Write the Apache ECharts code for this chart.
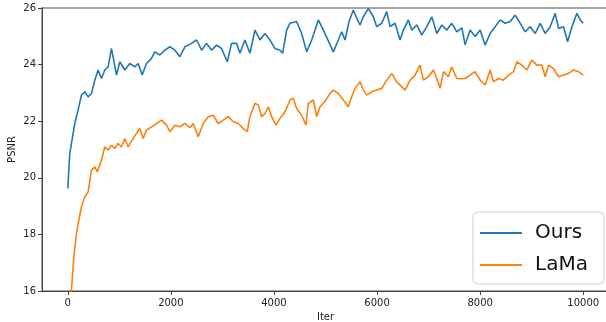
<!DOCTYPE html>
<html>
<head>
<meta charset="utf-8">
<script src="https://cdn.jsdelivr.net/npm/echarts@6/dist/echarts.min.js"></script>
<style>html,body{margin:0;padding:0;background:#fff;}#c{width:606px;height:322px;}</style>
</head>
<body>
<div id="c"></div>
<script>
const xTicks = [0, 2000, 4000, 6000, 8000, 10000];
const seriesNames = ['Ours', 'LaMa'];

const oursIter = [0,39,71,136,200,265,330,395,460,524,589,654,718,783,848,945,1010,1107,1204,1301,1366,1443,1527,1625,1689,1786,1883,1981,2078,2175,2272,2400,2499,2596,2693,2790,2887,2984,3094,3178,3275,3340,3437,3534,3631,3728,3825,3922,4019,4117,4168,4246,4311,4440,4537,4635,4732,4861,4958,5055,5152,5249,5314,5379,5456,5540,5606,5670,5734,5831,5928,5994,6091,6188,6252,6350,6447,6511,6608,6673,6770,6868,6965,7062,7159,7256,7353,7450,7547,7645,7709,7806,7903,8000,8097,8194,8291,8388,8485,8583,8680,8777,8874,8971,9068,9165,9262,9359,9456,9521,9618,9696,9780,9877,9942,10000];
const oursPsnr = [19.62,20.86,21.21,21.92,22.39,22.92,23.04,22.86,22.98,23.45,23.81,23.51,23.81,23.92,24.57,23.63,24.10,23.81,24.04,23.92,24.04,23.63,24.04,24.22,24.45,24.34,24.51,24.63,24.51,24.28,24.63,24.75,24.87,24.51,24.75,24.51,24.69,24.57,24.10,24.75,24.75,24.40,24.87,24.40,25.22,24.87,25.10,24.87,24.57,24.51,24.40,25.22,25.46,25.52,25.10,24.45,24.87,25.58,25.22,24.84,24.45,24.87,25.16,24.87,25.52,25.93,25.64,25.40,25.69,25.99,25.69,25.34,25.46,25.87,25.34,25.46,24.87,25.22,25.58,25.22,25.40,25.04,25.34,25.69,25.10,25.40,25.22,25.46,25.16,25.30,24.70,25.22,24.99,25.22,24.69,25.10,25.34,25.58,25.46,25.52,25.75,25.46,25.16,25.34,25.10,25.46,25.10,25.34,25.81,25.28,25.34,24.81,25.34,25.81,25.58,25.46];

const lamaIter = [0,71,123,168,214,265,330,395,460,524,576,654,718,783,848,913,977,1042,1107,1171,1249,1333,1398,1462,1527,1625,1722,1819,1916,1981,2078,2175,2272,2369,2434,2531,2628,2725,2822,2919,3016,3113,3210,3307,3404,3482,3534,3631,3696,3761,3825,3890,3955,4039,4117,4214,4311,4375,4440,4537,4621,4666,4764,4829,4893,4990,5087,5152,5249,5346,5443,5508,5573,5670,5734,5800,5897,5994,6091,6188,6285,6382,6479,6544,6641,6738,6835,6899,6996,7094,7191,7223,7288,7385,7450,7547,7630,7709,7806,7903,8000,8097,8194,8258,8355,8452,8550,8647,8712,8809,8906,9003,9100,9198,9262,9327,9424,9521,9618,9715,9812,9909,10000];
const lamaPsnr = [15.30,16.02,17.32,18.03,18.50,18.97,19.33,19.50,20.27,20.39,20.21,20.62,21.09,20.98,21.15,21.04,21.21,21.09,21.39,21.09,21.33,21.57,21.74,21.39,21.68,21.80,21.92,22.04,21.86,21.63,21.86,21.80,21.92,21.77,21.92,21.45,21.92,22.16,22.21,21.92,22.04,22.16,21.98,21.92,21.74,21.63,22.16,22.63,22.57,22.16,22.27,22.51,22.16,21.86,22.10,22.33,22.75,22.81,22.45,22.21,21.86,22.63,22.75,22.16,22.51,22.70,22.98,23.10,22.98,22.75,22.51,22.86,23.16,23.39,23.10,22.92,23.04,23.10,23.16,23.45,23.69,23.39,23.22,23.10,23.45,23.63,23.98,23.45,23.57,23.81,23.34,23.16,23.75,23.57,23.92,23.51,23.50,23.51,23.63,23.75,23.45,23.28,23.81,23.39,23.51,23.45,23.63,23.75,24.10,23.98,23.81,24.16,23.98,23.98,23.57,23.98,23.86,23.57,23.63,23.69,23.81,23.75,23.63];

function pairs(xs, ys) { return xs.map((x, i) => [x, ys[i]]); }

const chart = echarts.init(document.getElementById('c'), null, {renderer: 'canvas'});
const FONT = 'DejaVu Sans';
chart.setOption({
  animation: false,
  backgroundColor: '#fff',
  textStyle: {fontFamily: FONT},
  grid: {left: 42, top: 8, width: 567, height: 283, show: true, borderColor: '#888', borderWidth: 1.5,
         backgroundColor: 'transparent', outerBoundsMode: 'none', containLabel: false},
  xAxis: {
    type: 'value', min: -500, max: 10500,
    name: 'Iter', nameLocation: 'middle', nameGap: 21, nameMoveOverlap: false,
    nameTextStyle: {fontFamily: FONT, fontSize: 10, color: '#222'},
    splitLine: {show: false},
    axisLine: {show: true, onZero: false, lineStyle: {color: '#444', width: 1}},
    axisTick: {show: true, length: 4, lineStyle: {color: '#444'}, customValues: xTicks},
    axisLabel: {fontFamily: FONT, fontSize: 10, color: '#222', margin: 7, customValues: xTicks,
                formatter: v => String(v)}
  },
  yAxis: {
    type: 'value', min: 16, max: 26, interval: 2,
    name: 'PSNR', nameLocation: 'middle', nameGap: 25, nameRotate: 90, nameMoveOverlap: false,
    nameTextStyle: {fontFamily: FONT, fontSize: 10, color: '#222'},
    splitLine: {show: false},
    axisLine: {show: true, onZero: false, lineStyle: {color: '#444', width: 1}},
    axisTick: {show: true, length: 4, lineStyle: {color: '#444'}},
    axisLabel: {fontFamily: FONT, fontSize: 10, color: '#222', margin: 6}
  },
  legend: {
    left: 473, top: 212, orient: 'vertical',
    padding: [8, 16, 6, 7], itemGap: 6, itemWidth: 42, itemHeight: 2,
    icon: 'rect',
    backgroundColor: '#fff', borderColor: '#d0d0d0', borderWidth: 1, borderRadius: 4,
    textStyle: {fontFamily: FONT, fontSize: 20, color: '#111', padding: [0, 0, 0, 8], lineHeight: 26},
    data: seriesNames
  },
  series: [
    {name: seriesNames[0], type: 'line', data: pairs(oursIter, oursPsnr), symbol: 'none', clip: true,
     lineStyle: {color: '#1f77b4', width: 1.6}, itemStyle: {color: '#1f77b4'}},
    {name: seriesNames[1], type: 'line', data: pairs(lamaIter, lamaPsnr), symbol: 'none', clip: true,
     lineStyle: {color: '#ff7f0e', width: 1.6}, itemStyle: {color: '#ff7f0e'}}
  ]
});
</script>
</body>
</html>
